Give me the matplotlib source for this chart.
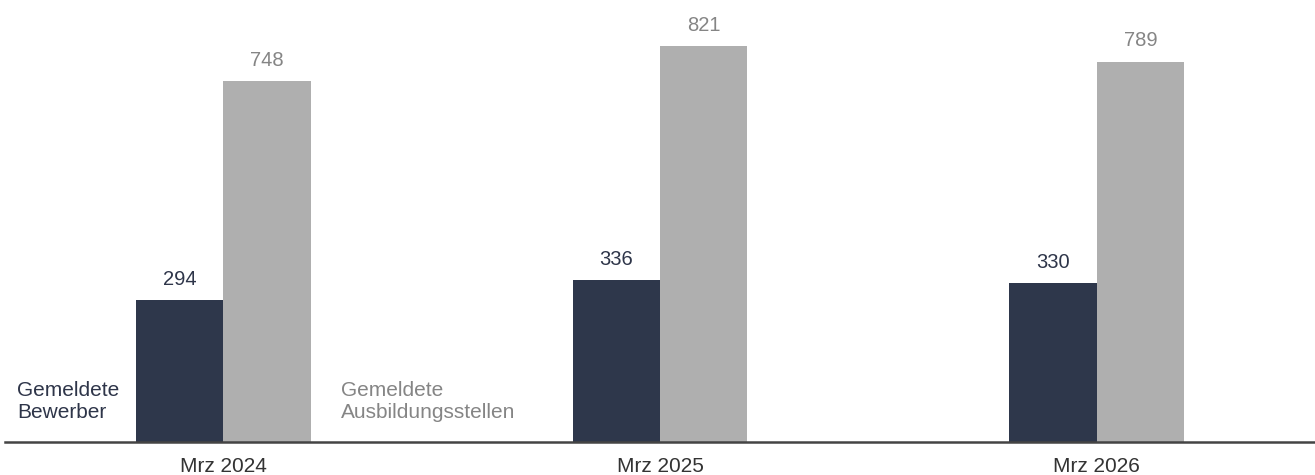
import matplotlib.pyplot as plt
import numpy as np

plt.rcParams['font.family'] = ['Liberation Sans', 'DejaVu Sans']

months = ['Mrz 2024', 'Mrz 2025', 'Mrz 2026']
bewerber = [294, 336, 330]
stellen = [748, 821, 789]
series_labels = ['Gemeldete\nBewerber', 'Gemeldete\nAusbildungsstellen']

dark = '#2e374b'
gray = '#afafaf'
dark_txt = '#2e3549'
gray_txt = '#858585'

fig = plt.figure(figsize=(13.15, 4.75), dpi=100)
ax = fig.add_axes([5 / 1315, 33 / 475, 1310 / 1315, 442 / 475])

x = np.arange(len(months))
width = 0.2
b1 = ax.bar(x - width / 2, bewerber, width, color=dark, linewidth=0)
b2 = ax.bar(x + width / 2, stellen, width, color=gray, linewidth=0)

for rect, v in zip(b1, bewerber):
    ax.annotate(f'{v}', (rect.get_x() + rect.get_width() / 2, v), xytext=(0, 11),
                textcoords='offset points', ha='center', va='baseline', fontsize=14.5, color=dark_txt)
for rect, v in zip(b2, stellen):
    ax.annotate(f'{v}', (rect.get_x() + rect.get_width() / 2, v), xytext=(0, 11),
                textcoords='offset points', ha='center', va='baseline', fontsize=14.5, color=gray_txt)

# series labels placed next to the first group
ax.text(-0.472, 85, series_labels[0], ha='left', va='center', fontsize=15, color=dark_txt, linespacing=1.2)
ax.text(0.27, 85, series_labels[1], ha='left', va='center', fontsize=15, color=gray_txt, linespacing=1.2)

ax.set_xlim(-0.5, 2.5)
ax.set_ylim(0, 917)
ax.set_xticks(x)
ax.set_xticklabels(months, fontsize=15, color='#333333')
ax.tick_params(axis='x', length=0, pad=11)
ax.set_yticks([])
for s in ['top', 'right', 'left']:
    ax.spines[s].set_visible(False)
ax.spines['bottom'].set_color('#444444')
ax.spines['bottom'].set_linewidth(1.8)

fig.savefig('out.png', dpi=100)
